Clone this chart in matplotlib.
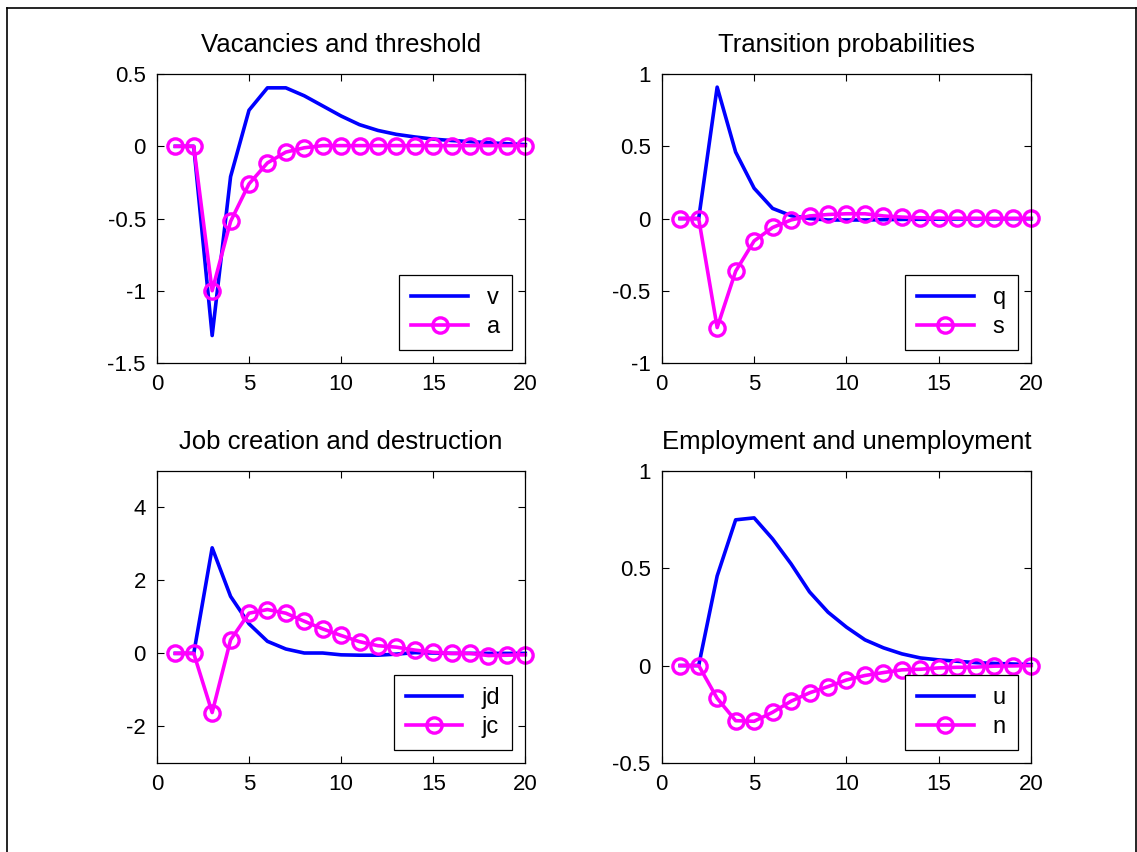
import matplotlib.pyplot as plt
from matplotlib.lines import Line2D

plt.rcParams['font.family'] = ['Liberation Sans', 'DejaVu Sans']
plt.rcParams['font.size'] = 16

t = list(range(1, 21))

v = [0, 0, -1.31, -0.21, 0.25, 0.405, 0.405, 0.35, 0.28, 0.21, 0.15, 0.11, 0.083,
     0.065, 0.05, 0.04, 0.033, 0.025, 0.018, 0.012]
a = [0, 0, -1.0, -0.52, -0.26, -0.115, -0.04, -0.01, 0.005, 0.005, 0.005, 0.005,
     0.005, 0.005, 0.005, 0.005, 0.005, 0.005, 0.005, 0.005]

q = [0, 0, 0.91, 0.46, 0.21, 0.07, 0.02, 0, -0.01, -0.01, -0.01, -0.008, -0.006,
     -0.005, -0.004, -0.003, -0.002, -0.002, -0.001, -0.001]
s = [0, 0, -0.755, -0.365, -0.155, -0.062, -0.01, 0.018, 0.028, 0.033, 0.033,
     0.018, 0.01, 0.005, 0.003, 0.002, 0.002, 0.001, 0.001, 0.001]

jd = [0, 0, 2.89, 1.56, 0.81, 0.33, 0.12, 0.01, 0.01, -0.04, -0.05, -0.05, -0.02,
      0.02, 0.01, 0.0, 0.0, 0.0, 0.0, 0.0]
jc = [0, 0, -1.62, 0.37, 1.1, 1.2, 1.1, 0.88, 0.67, 0.49, 0.32, 0.21, 0.17, 0.09,
      0.03, 0.0, 0.0, -0.06, -0.05, -0.04]

u = [0, 0, 0.46, 0.748, 0.758, 0.65, 0.522, 0.378, 0.274, 0.197, 0.132, 0.091,
     0.06, 0.039, 0.029, 0.022, 0.015, 0.011, 0.008, 0.005]
n = [0, 0, -0.168, -0.283, -0.286, -0.24, -0.183, -0.14, -0.108, -0.074, -0.051,
     -0.036, -0.022, -0.019, -0.012, -0.009, -0.008, -0.003, -0.002, 0]

panels = [
    ("Vacancies and threshold", v, a, "v", "a", (-1.5, 0.5), [-1.5, -1, -0.5, 0, 0.5]),
    ("Transition probabilities", q, s, "q", "s", (-1, 1), [-1, -0.5, 0, 0.5, 1]),
    ("Job creation and destruction", jd, jc, "jd", "jc", (-3, 5), [-2, 0, 2, 4]),
    ("Employment and unemployment", u, n, "u", "n", (-0.5, 1), [-0.5, 0, 0.5, 1]),
]

fig = plt.figure(figsize=(11.37, 8.52), dpi=100)
boxes = [[0.138, 0.574, 0.324, 0.339], [0.582, 0.574, 0.325, 0.339],
         [0.138, 0.1045, 0.324, 0.343], [0.582, 0.1045, 0.325, 0.343]]

for box, (title, y1, y2, l1, l2, ylim, yt) in zip(boxes, panels):
    ax = fig.add_axes(box)
    ax.plot(t, y1, color='#0000ff', lw=2.6, label=l1, clip_on=False)
    ax.plot(t, y2, color='#ff00ff', lw=2.6, marker='o', ms=11, mfc='none',
            mew=2.4, label=l2, clip_on=False)
    ax.set_xlim(0, 20)
    ax.set_ylim(*ylim)
    ax.set_xticks([0, 5, 10, 15, 20])
    ax.set_yticks(yt)
    ax.set_yticklabels([('%g' % y) for y in yt])
    ax.tick_params(direction='in', top=True, right=True, length=5, width=0.8,
                   labelsize=16, pad=8)
    for sp in ax.spines.values():
        sp.set_linewidth(0.9)
    ax.set_title(title, fontsize=18.5, pad=16)
    leg = ax.legend(loc='lower right', bbox_to_anchor=(0.963, 0.045),
                    borderaxespad=0, fancybox=False, framealpha=1,
                    edgecolor='black', handlelength=2.4, fontsize=17,
                    borderpad=0.5, labelspacing=0.3)
    leg.get_frame().set_linewidth(0.9)

# figure frame on left and top
fig.add_artist(Line2D([7 / 1137, 7 / 1137], [0, 1 - 8 / 852], color='black',
                      lw=1.2, transform=fig.transFigure))
fig.add_artist(Line2D([7 / 1137, 1], [1 - 8 / 852, 1 - 8 / 852], color='black',
                      lw=1.2, transform=fig.transFigure))
fig.add_artist(Line2D([1135.5 / 1137, 1135.5 / 1137], [0, 1 - 8 / 852],
                      color='black', lw=1.2, transform=fig.transFigure))

plt.savefig("out.png", dpi=100)
